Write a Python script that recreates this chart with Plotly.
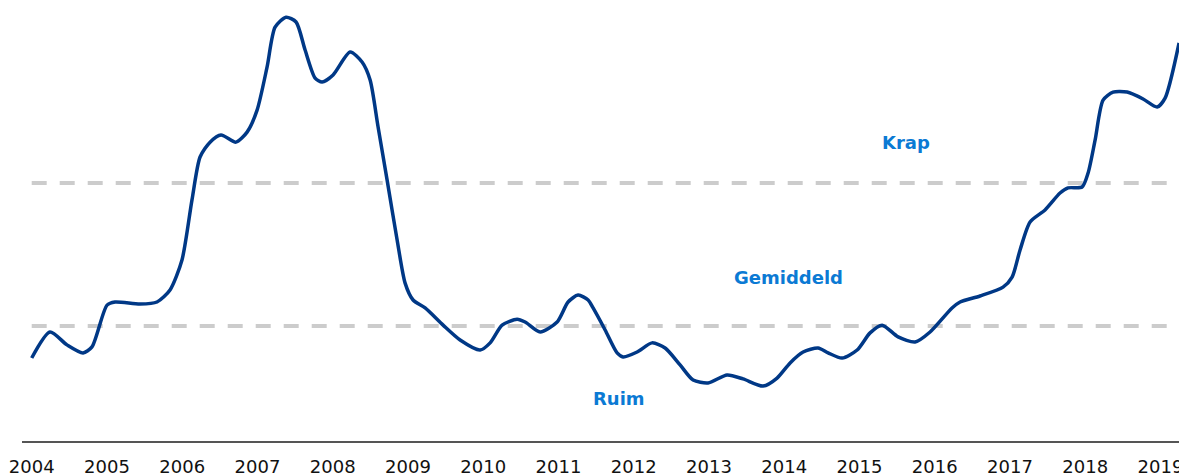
import plotly.graph_objects as go

# Decimal years and indicator values
years = [2004.00, 2004.243, 2004.469, 2004.682, 2004.801, 2005.001, 2005.107, 2005.439, 2005.665, 2005.838,
         2005.997, 2006.130, 2006.237, 2006.370, 2006.516, 2006.715, 2006.862, 2006.995, 2007.128, 2007.234,
         2007.380, 2007.513, 2007.633, 2007.766, 2007.859, 2008.005, 2008.231, 2008.390, 2008.497, 2008.603,
         2008.723, 2008.856, 2008.962, 2009.068, 2009.228, 2009.467, 2009.693, 2009.959, 2010.092, 2010.251,
         2010.450, 2010.557, 2010.756, 2010.982, 2011.128, 2011.261, 2011.394, 2011.460, 2011.620, 2011.779,
         2011.859, 2012.045, 2012.244, 2012.417, 2012.616, 2012.789, 2012.988, 2013.241, 2013.453, 2013.719,
         2013.905, 2014.078, 2014.251, 2014.450, 2014.583, 2014.769, 2014.969, 2015.141, 2015.301, 2015.513,
         2015.739, 2015.938, 2016.230, 2016.337, 2016.602, 2016.908, 2017.028, 2017.134, 2017.267, 2017.466,
         2017.665, 2017.772, 2017.958, 2018.038, 2018.131, 2018.237, 2018.370, 2018.556, 2018.769, 2018.955,
         2019.061, 2019.247]
values = [3.88, 4.79, 4.34, 4.06, 4.27, 5.73, 5.84, 5.77, 5.84, 6.26,
          7.31, 9.41, 10.91, 11.43, 11.68, 11.43, 11.78, 12.55, 14.06, 15.45,
          15.80, 15.63, 14.65, 13.67, 13.53, 13.78, 14.58, 14.23, 13.60, 11.96,
          10.10, 8.01, 6.50, 5.91, 5.63, 5.03, 4.51, 4.16, 4.41, 5.03,
          5.24, 5.14, 4.79, 5.14, 5.84, 6.08, 5.91, 5.63, 4.86, 4.06,
          3.92, 4.09, 4.41, 4.23, 3.64, 3.11, 3.01, 3.29, 3.15, 2.90,
          3.18, 3.71, 4.09, 4.23, 4.06, 3.88, 4.16, 4.76, 5.03, 4.62,
          4.44, 4.79, 5.63, 5.84, 6.05, 6.36, 6.71, 7.66, 8.64, 9.06,
          9.65, 9.83, 9.86, 10.35, 11.50, 12.90, 13.18, 13.18, 12.94, 12.66,
          12.97, 14.90]

tick_years = list(range(2004, 2020))
tick_labels = [str(y) for y in tick_years]

thresholds = [5, 10]
zone_labels = ["Krap", "Gemiddeld", "Ruim"]
zone_x = [2015.618, 2014.053, 2011.805]
zone_y = [11.43, 6.68, 2.48]

fig = go.Figure()
fig.add_trace(go.Scatter(
    x=years, y=values, mode="lines",
    line=dict(color="#003886", width=3.5, shape="spline", smoothing=0.7),
    hoverinfo="skip", showlegend=False,
))

for t in thresholds:
    fig.add_shape(type="line", xref="x", yref="y", x0=2004.0, x1=2019.4, y0=t, y1=t,
                  line=dict(color="#cccccc", width=4, dash="15px,13px"), layer="below")

for txt, xx, yy in zip(zone_labels, zone_x, zone_y):
    fig.add_annotation(x=xx, y=yy, text="<b>%s</b>" % txt, showarrow=False,
                       font=dict(family="DejaVu Sans", size=18, color="#0b7ad4"))

fig.update_layout(
    width=1179, height=475,
    margin=dict(l=22, r=0, t=0, b=34),
    paper_bgcolor="white", plot_bgcolor="white",
    xaxis=dict(range=[2003.871, 2019.246], tickvals=tick_years, ticktext=tick_labels,
               showgrid=False, zeroline=False, showline=True, linecolor="#555555", linewidth=2,
               ticks="", ticklabelstandoff=8, automargin=False, ticklabeloverflow="allow",
               tickfont=dict(family="DejaVu Sans", size=18, color="#111111")),
    yaxis=dict(range=[0.979, 16.40], visible=False, showgrid=False, zeroline=False,
               automargin=False),
)

fig.write_html("out.html", config={"displayModeBar": False, "staticPlot": True},
               post_script="document.body.style.margin='0';document.body.style.overflow='hidden';")
